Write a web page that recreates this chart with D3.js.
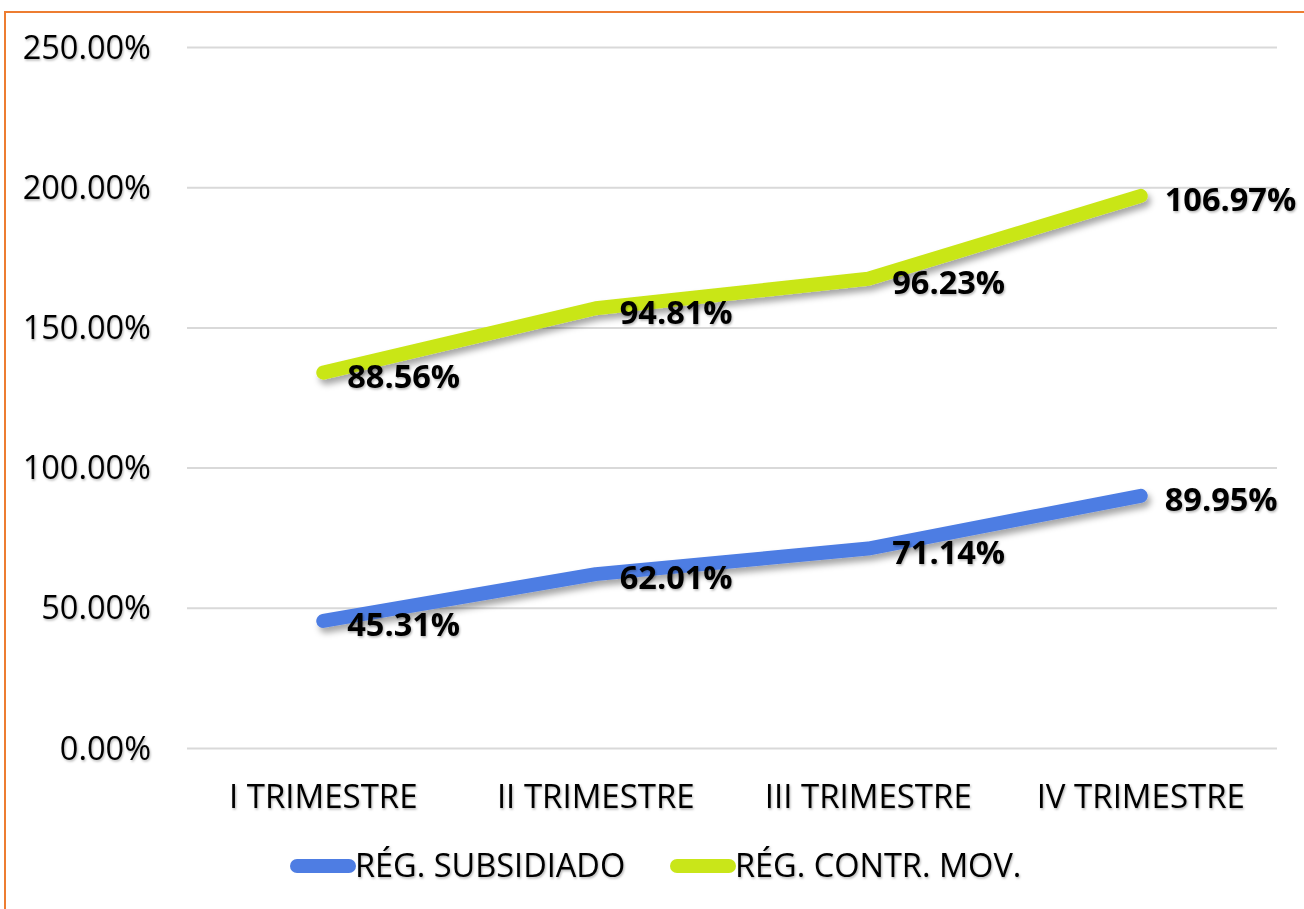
<!DOCTYPE html>
<html>
<head>
<meta charset="utf-8">
<script src="https://cdn.jsdelivr.net/npm/d3@7"></script>
<style>
  body { margin: 0; background: #fff; }
  text { font-family: "Open Sans", "Noto Sans", sans-serif; }
</style>
</head>
<body>
<div class="chart-section"></div>
<script>
var categories = ["I TRIMESTRE", "II TRIMESTRE", "III TRIMESTRE", "IV TRIMESTRE"];
var seriesNames = ["RÉG. SUBSIDIADO", "RÉG. CONTR. MOV."];
var subsidiado = [45.31, 62.01, 71.14, 89.95];
var contributivo = [88.56, 94.81, 96.23, 106.97];
var yTicks = [0, 50, 100, 150, 200, 250];
var colors = ["#4e7de3", "#c9e619"];

var screen = { width: 1304, height: 909 };
var margins = { top: 47, bottom: 161, left: 187, right: 27 };

var drawChart = function(){
  var graphWidth = screen.width - margins.left - margins.right;
  var graphHeight = screen.height - margins.top - margins.bottom;

  var xScale = d3.scaleBand()
                .domain(categories)
                .range([0, graphWidth]);

  var yScale = d3.scaleLinear()
                .domain([0, 250])
                .range([graphHeight, 0]);

  var svg = d3.select(".chart-section")
              .append("svg")
              .attr("width", screen.width)
              .attr("height", screen.height);

  var defs = svg.append("defs");
  var lineShadow = defs.append("filter").attr("id", "lineShadow")
                       .attr("x", "-10%").attr("y", "-50%").attr("width", "130%").attr("height", "200%");
  lineShadow.append("feDropShadow").attr("dx", 3).attr("dy", 5)
            .attr("stdDeviation", 3).attr("flood-color", "#000").attr("flood-opacity", 0.35);
  var textShadow = defs.append("filter").attr("id", "textShadow");
  textShadow.append("feDropShadow").attr("dx", 1).attr("dy", 1.5)
            .attr("stdDeviation", 1).attr("flood-color", "#000").attr("flood-opacity", 0.3);

  // orange frame, runs off the right and bottom
  svg.append("rect")
     .attr("x", 5).attr("y", 12)
     .attr("width", screen.width + 20).attr("height", screen.height + 20)
     .attr("fill", "none").attr("stroke", "#ed7d31").attr("stroke-width", 2);

  var plot = svg.append("g")
                .attr("transform", "translate(" + margins.left + "," + margins.top + ")");

  // gridlines + y labels
  var yAxis = d3.axisLeft(yScale)
                .tickValues(yTicks)
                .tickSize(-graphWidth)
                .tickFormat(function(d){ return d3.format(".2f")(d) + "%"; });

  var yG = plot.append("g").call(yAxis);
  yG.select(".domain").remove();
  yG.selectAll(".tick line").attr("stroke", "#d9d9d9").attr("stroke-width", 2);
  yG.selectAll(".tick text")
    .attr("x", -36).attr("dy", "0.34em")
    .attr("font-size", 32.5).attr("fill", "#000")
    .attr("filter", "url(#textShadow)")
    .style("font-family", "'Open Sans', sans-serif");

  // category labels
  var xAxis = d3.axisBottom(xScale).tickSize(0);
  var xG = plot.append("g")
               .attr("transform", "translate(0," + graphHeight + ")")
               .call(xAxis);
  xG.select(".domain").remove();
  xG.selectAll(".tick text")
    .attr("y", 49).attr("dy", "0.34em")
    .attr("font-size", 33).attr("fill", "#000")
    .attr("filter", "url(#textShadow)")
    .style("font-family", "'Open Sans', sans-serif");

  // stacked lines: the second series sits on top of the first
  var stacked = contributivo.map(function(d, i){ return d + subsidiado[i]; });
  var series = [
    { name: seriesNames[0], shown: subsidiado, values: subsidiado, color: colors[0] },
    { name: seriesNames[1], shown: contributivo, values: stacked, color: colors[1] }
  ];

  var line = d3.line()
               .x(function(d, i){ return xScale(categories[i]) + xScale.bandwidth() / 2; })
               .y(function(d){ return yScale(d); });

  series.forEach(function(s){
    plot.append("path")
        .datum(s.values)
        .attr("d", line)
        .attr("fill", "none")
        .attr("stroke", s.color)
        .attr("stroke-width", 14)
        .attr("stroke-linecap", "round")
        .attr("stroke-linejoin", "round")
        .attr("filter", "url(#lineShadow)");
  });

  series.forEach(function(s){
    plot.selectAll(null)
        .data(s.values)
        .enter()
        .append("text")
        .attr("x", function(d, i){ return xScale(categories[i]) + xScale.bandwidth() / 2 + 24; })
        .attr("y", function(d){ return yScale(d) + 4; })
        .attr("dy", "0.35em")
        .attr("font-size", 32.5)
        .attr("font-weight", "bold")
        .attr("fill", "#000")
        .attr("filter", "url(#textShadow)")
        .text(function(d, i){ return d3.format(".2f")(s.shown[i]) + "%"; });
  });

  // legend
  var legend = svg.append("g")
                  .attr("transform", "translate(0,866)");
  var legendX = [297, 677];
  var items = legend.selectAll("g")
                    .data(series)
                    .enter()
                    .append("g")
                    .attr("transform", function(d, i){ return "translate(" + legendX[i] + ",0)"; });
  items.append("line")
       .attr("x1", 0).attr("x2", 52).attr("y1", 0).attr("y2", 0)
       .attr("stroke", function(d){ return d.color; })
       .attr("stroke-width", 14)
       .attr("stroke-linecap", "round");
  items.append("text")
       .attr("x", 58).attr("dy", "0.34em")
       .attr("font-size", 32.5).attr("fill", "#000")
       .attr("filter", "url(#textShadow)")
       .text(function(d){ return d.name; });
};

drawChart();
</script>
</body>
</html>
